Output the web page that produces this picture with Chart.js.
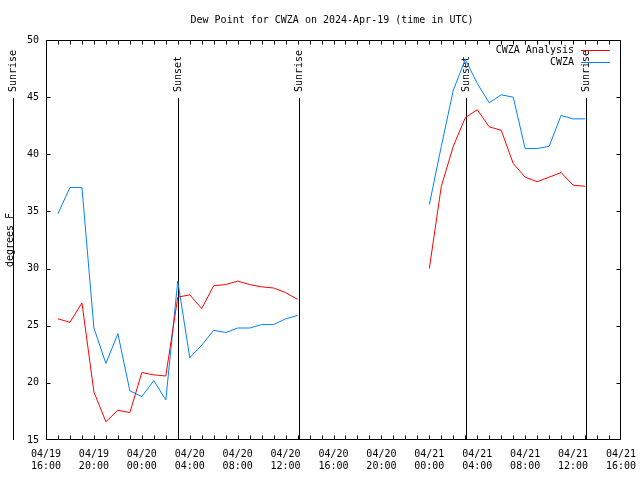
<!DOCTYPE html>
<html>
<head>
<meta charset="utf-8">
<script src="https://cdn.jsdelivr.net/npm/chart.js@4"></script>
<style>
  body { margin: 0; background: #fff; }
</style>
</head>
<body>
<canvas id="dew" width="640" height="480"></canvas>
<script>
// hours since 04/19 16:00 UTC
const hours = [];
for (let h = 1; h <= 45; h++) hours.push(h);

// dew point, degrees F (null = no data)
const analysis = [25.6, 25.3, 27.0, 19.2, 16.6, 17.6, 17.4, 20.9, 20.7, 20.6,
  27.5, 27.7, 26.5, 28.5, 28.6, 28.9, 28.6, 28.4, 28.3, 27.9, 27.3,
  null, null, null, null, null, null, null, null, null, null,
  30.0, 37.2, 40.7, 43.2, 43.9, 42.4, 42.1, 39.2, 38.0, 37.6, 38.0, 38.4, 37.3, 37.2];
const observed = [34.8, 37.1, 37.1, 24.8, 21.7, 24.3, 19.3, 18.8, 20.2, 18.5,
  28.9, 22.2, 23.3, 24.6, 24.4, 24.8, 24.8, 25.1, 25.1, 25.6, 25.9,
  null, null, null, null, null, null, null, null, null, null,
  35.6, 40.7, 45.6, 48.3, 46.2, 44.5, 45.2, 45.0, 40.5, 40.5, 40.7, 43.4, 43.1, 43.1];

const tickLabels = [
  ['04/19', '16:00'], ['04/19', '20:00'], ['04/20', '00:00'], ['04/20', '04:00'],
  ['04/20', '08:00'], ['04/20', '12:00'], ['04/20', '16:00'], ['04/20', '20:00'],
  ['04/21', '00:00'], ['04/21', '04:00'], ['04/21', '08:00'], ['04/21', '12:00'],
  ['04/21', '16:00']
];

const sunHours = [-2.78, 11.05, 21.15, 35.09, 45.08];
const sunLabels = ['Sunrise', 'Sunset', 'Sunrise', 'Sunset', 'Sunrise'];

const title = 'Dew Point for CWZA on 2024-Apr-19 (time in UTC)';
const MONO = '"DejaVu Sans Mono", "Liberation Mono", monospace';

function toPoints(vals) {
  return hours.map((h, i) => ({ x: h, y: vals[i] }));
}

// title, sunrise / sunset markers, frame and inward ticks
const gnuplotBits = {
  id: 'gnuplotBits',
  beforeDatasetsDraw(chart) {
    const { ctx, chartArea: a, scales: { x } } = chart;
    ctx.save();
    ctx.strokeStyle = '#000';
    ctx.lineWidth = 1;
    ctx.fillStyle = '#000';
    ctx.font = '10px ' + MONO;
    ctx.textAlign = 'center';
    ctx.textBaseline = 'middle';
    ctx.fillText(title, 332, 20);
    sunHours.forEach((h, i) => {
      const px = Math.round(x.getPixelForValue(h)) + 0.5;
      ctx.beginPath();
      ctx.moveTo(px, 98);
      ctx.lineTo(px, a.bottom);
      ctx.stroke();
      ctx.save();
      ctx.translate(px, 92);
      ctx.rotate(-Math.PI / 2);
      ctx.textAlign = 'left';
      ctx.fillText(sunLabels[i], 0, 0);
      ctx.restore();
    });
    ctx.restore();
  },
  afterDraw(chart) {
    const { ctx, chartArea: a, scales: { x, y } } = chart;
    ctx.save();
    ctx.strokeStyle = '#000';
    ctx.lineWidth = 1;
    const L = Math.round(a.left) + 0.5, R = Math.round(a.right) - 0.5;
    const T = Math.round(a.top) + 0.5, B = Math.round(a.bottom) - 0.5;
    ctx.strokeRect(L, T, R - L, B - T);
    ctx.beginPath();
    for (let h = 0; h <= 48; h++) {
      const px = Math.round(x.getPixelForValue(h)) + 0.5;
      if (px <= L || px >= R) continue;
      ctx.moveTo(px, B); ctx.lineTo(px, B - 4);
      ctx.moveTo(px, T); ctx.lineTo(px, T + 4);
    }
    y.ticks.forEach(t => {
      const py = Math.round(y.getPixelForValue(t.value)) + 0.5;
      if (py <= T || py >= B) return;
      ctx.moveTo(L, py); ctx.lineTo(L + 4, py);
      ctx.moveTo(R, py); ctx.lineTo(R - 4, py);
    });
    ctx.stroke();

    // legend, gnuplot style: text then line sample
    ctx.font = '10px ' + MONO;
    ctx.textAlign = 'right';
    ctx.textBaseline = 'middle';
    chart.data.datasets.forEach((ds, i) => {
      const ly = 50 + i * 12;
      ctx.fillStyle = '#000';
      ctx.fillText(ds.label, 574, ly);
      ctx.strokeStyle = ds.borderColor;
      ctx.beginPath();
      ctx.moveTo(581, ly + 0.5);
      ctx.lineTo(610, ly + 0.5);
      ctx.stroke();
    });
    ctx.restore();
  }
};

new Chart(document.getElementById('dew'), {
  type: 'line',
  data: {
    datasets: [{
      label: 'CWZA Analysis',
      data: toPoints(analysis),
      borderColor: '#ff0000',
      borderWidth: 1,
      pointRadius: 0,
      tension: 0,
      spanGaps: false
    }, {
      label: 'CWZA',
      data: toPoints(observed),
      borderColor: '#0080ff',
      borderWidth: 1,
      pointRadius: 0,
      tension: 0,
      spanGaps: false
    }]
  },
  options: {
    responsive: false,
    animation: false,
    layout: { padding: { left: 0, right: 19, top: 40, bottom: 0 } },
    plugins: {
      legend: { display: false },
      tooltip: { enabled: false },
      title: { display: false }
    },
    scales: {
      x: {
        type: 'linear',
        min: 0,
        max: 48,
        afterFit: s => { s.height = 40; s.paddingLeft = 0; s.paddingRight = 0; },
        grid: { display: false, drawTicks: false },
        border: { display: false },
        ticks: {
          stepSize: 4,
          autoSkip: false,
          maxRotation: 0,
          padding: 8,
          color: '#000',
          font: { family: MONO, size: 10 },
          callback: v => tickLabels[v / 4]
        }
      },
      y: {
        min: 15,
        max: 50,
        afterFit: s => { s.width = 46; s.paddingTop = 0; s.paddingBottom = 0; },
        grid: { display: false, drawTicks: false },
        border: { display: false },
        title: {
          display: true,
          text: 'degrees F',
          color: '#000',
          font: { family: MONO, size: 10 },
          padding: { top: 4 }
        },
        ticks: {
          stepSize: 5,
          padding: 7,
          color: '#000',
          font: { family: MONO, size: 10 }
        }
      }
    }
  },
  plugins: [gnuplotBits]
});
</script>
</body>
</html>
